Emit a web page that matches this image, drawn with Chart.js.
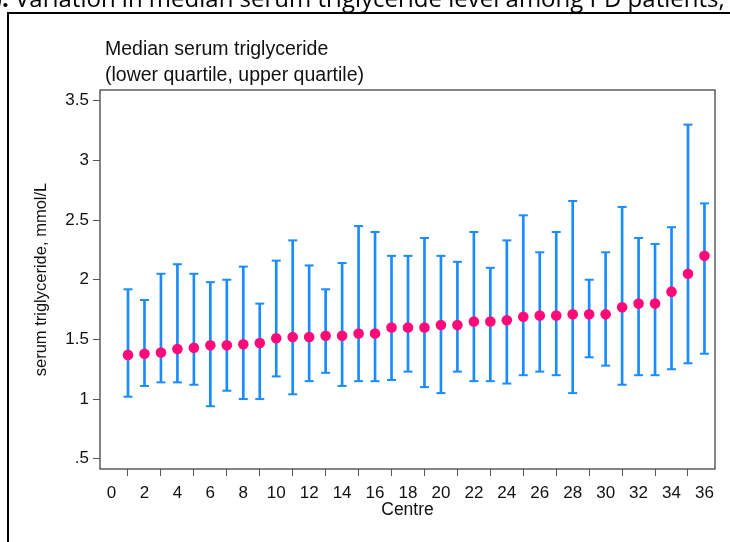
<!DOCTYPE html>
<html>
<head>
<meta charset="utf-8">
<script src="https://cdn.jsdelivr.net/npm/chart.js@4"></script>
<style>
  body { margin: 0; background: #fff; }
  canvas { display: block; }
</style>
</head>
<body>
<canvas id="tgChart" width="730" height="542"></canvas>
<script>
// centre number, median and quartiles (mmol/L)
const centres = [1, 2, 3, 4, 5, 6, 7, 8, 9, 10, 11, 12, 13, 14, 15, 16, 17, 18,
  19, 20, 21, 22, 23, 24, 25, 26, 27, 28, 29, 30, 31, 32, 33, 34, 35, 36];
const medians = [1.37, 1.38, 1.39, 1.42, 1.43, 1.45, 1.45, 1.46, 1.47, 1.51, 1.52, 1.52,
  1.53, 1.53, 1.55, 1.55, 1.60, 1.60, 1.60, 1.62, 1.62, 1.65, 1.65, 1.66,
  1.69, 1.70, 1.70, 1.71, 1.71, 1.71, 1.77, 1.80, 1.80, 1.90, 2.05, 2.20];
const lowerQ = [1.02, 1.11, 1.14, 1.14, 1.12, 0.94, 1.07, 1.00, 1.00, 1.19, 1.04, 1.15,
  1.22, 1.11, 1.15, 1.15, 1.16, 1.23, 1.10, 1.05, 1.23, 1.15, 1.15, 1.13,
  1.20, 1.23, 1.20, 1.05, 1.35, 1.28, 1.12, 1.20, 1.20, 1.25, 1.30, 1.38];
const upperQ = [1.92, 1.83, 2.05, 2.13, 2.05, 1.98, 2.00, 2.11, 1.80, 2.16, 2.33, 2.12,
  1.92, 2.14, 2.45, 2.40, 2.20, 2.20, 2.35, 2.20, 2.15, 2.40, 2.10, 2.33,
  2.54, 2.23, 2.40, 2.66, 2.00, 2.23, 2.61, 2.35, 2.30, 2.44, 3.30, 2.64];

const xTicks = [0, 2, 4, 6, 8, 10, 12, 14, 16, 18, 20, 22, 24, 26, 28, 30, 32, 34, 36];
const yTicks = [0.5, 1, 1.5, 2, 2.5, 3, 3.5];
const yTickLabels = ['.5', '1', '1.5', '2', '2.5', '3', '3.5'];

const blue = '#1a8cff';
const pink = '#ff0a78';
const fontFam = "'Liberation Sans', Arial, sans-serif";

const pts = (vals) => centres.map((c, i) => ({ x: c, y: vals[i] }));

// frame, caption line and the two-line title
const decor = {
  id: 'decor',
  beforeDraw(chart) {
    const ctx = chart.ctx;
    ctx.save();
    ctx.fillStyle = '#fff';
    ctx.fillRect(0, 0, chart.width, chart.height);

    ctx.fillStyle = '#000';
    ctx.textBaseline = 'alphabetic';
    ctx.font = "bold 24px 'Open Sans', sans-serif";
    const lead = ctx.measureText('b). ').width;
    ctx.fillText('b).', 15 - lead, 7);
    ctx.font = "24px 'Open Sans', sans-serif";
    ctx.fillText('Variation in median serum triglyceride level among PD patients, PD centres', 15, 7);

    ctx.strokeStyle = '#000';
    ctx.lineWidth = 2;
    ctx.strokeRect(8, 13, 760, 600);

    const a = chart.chartArea;
    ctx.font = '19.5px ' + fontFam;
    ctx.fillStyle = '#111';
    ctx.fillText('Median serum triglyceride', a.left + 5, 55);
    ctx.fillText('(lower quartile, upper quartile)', a.left + 5, 81);
    ctx.restore();
  },
  afterDraw(chart) {
    const a = chart.chartArea;
    const ctx = chart.ctx;
    ctx.save();
    ctx.strokeStyle = '#444';
    ctx.lineWidth = 1.3;
    ctx.strokeRect(a.left, a.top, a.right - a.left, a.bottom - a.top);
    ctx.restore();
  }
};

new Chart(document.getElementById('tgChart'), {
  type: 'scatter',
  data: {
    datasets: [
      {
        label: 'median',
        data: pts(medians),
        pointRadius: 5.3,
        pointBackgroundColor: pink,
        pointBorderWidth: 0,
        order: 0
      },
      {
        type: 'bar',
        label: 'iqr',
        data: centres.map((c, i) => ({ x: c, y: [lowerQ[i], upperQ[i]] })),
        backgroundColor: blue,
        barThickness: 2,
        borderWidth: 0,
        order: 3
      },
      {
        label: 'upper',
        data: pts(upperQ),
        pointStyle: 'line',
        pointRadius: 4.5,
        pointBorderColor: blue,
        pointBorderWidth: 2,
        order: 2
      },
      {
        label: 'lower',
        data: pts(lowerQ),
        pointStyle: 'line',
        pointRadius: 4.5,
        pointBorderColor: blue,
        pointBorderWidth: 2,
        order: 2
      }
    ]
  },
  options: {
    responsive: false,
    animation: false,
    layout: { padding: { left: 0, top: 90, right: 15, bottom: 0 } },
    plugins: {
      legend: { display: false },
      tooltip: { enabled: false }
    },
    scales: {
      x: {
        type: 'linear',
        min: -0.7,
        max: 36.64,
        offset: false,
        afterBuildTicks: (s) => { s.ticks = xTicks.map(v => ({ value: v })); },
        afterFit: (s) => { s.height = 73; },
        grid: { drawOnChartArea: false, drawTicks: true, tickLength: 7, color: '#555' },
        border: { display: false },
        ticks: { color: '#111', font: { family: fontFam, size: 17 }, padding: 7, maxRotation: 0, autoSkip: false },
        title: { display: true, text: 'Centre', color: '#111', font: { family: fontFam, size: 17.5 }, padding: { top: 0, bottom: 21 } }
      },
      y: {
        min: 0.414,
        max: 3.59,
        afterBuildTicks: (s) => { s.ticks = yTicks.map(v => ({ value: v })); },
        afterFit: (s) => { s.width = 100; },
        grid: { drawOnChartArea: false, drawTicks: true, tickLength: 7, color: '#555' },
        border: { display: false },
        ticks: {
          color: '#111',
          font: { family: fontFam, size: 17 },
          padding: 4,
          callback: (v) => { const k = yTicks.indexOf(v); return k >= 0 ? yTickLabels[k] : ''; }
        },
        title: { display: true, text: 'serum triglyceride, mmol/L', color: '#111', font: { family: fontFam, size: 16.5 }, padding: { top: 32, bottom: 0 } }
      }
    }
  },
  plugins: [decor]
});
</script>
</body>
</html>
